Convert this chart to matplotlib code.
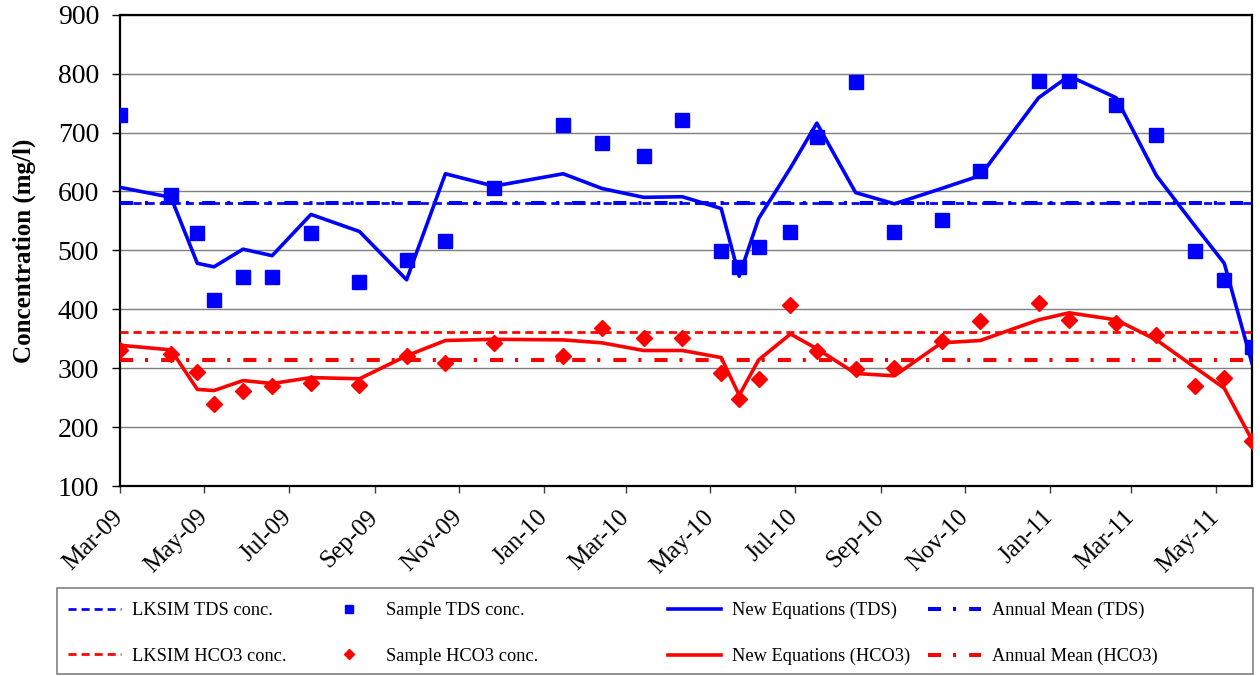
import matplotlib
matplotlib.use('Agg')
import matplotlib.pyplot as plt
import matplotlib.dates as mdates
import pandas as pd
from matplotlib.patches import Rectangle

plt.rcParams['font.family'] = ['Liberation Serif', 'DejaVu Serif']
plt.rcParams['lines.scale_dashes'] = False

# ---------------- data ----------------
sample_dates = [
    '2009-03-01', '2009-04-07', '2009-04-26', '2009-05-08', '2009-05-29',
    '2009-06-19', '2009-07-17', '2009-08-21', '2009-09-24', '2009-10-22',
    '2009-11-26', '2010-01-15', '2010-02-12', '2010-03-14', '2010-04-11',
    '2010-05-09', '2010-05-22', '2010-06-05', '2010-06-28', '2010-07-17',
    '2010-08-14', '2010-09-11', '2010-10-15', '2010-11-12', '2010-12-24',
    '2011-01-15', '2011-02-18', '2011-03-19', '2011-04-16', '2011-05-07',
    '2011-05-27',
]
tds_sample = [730, 594, 530, 416, 454, 455, 530, 447, 484, 516,
              606, 712, 683, 661, 722, 499, 471, 506, 531, 692,
              786, 531, 552, 634, 788, 788, 746, 696, 499, 450,
              336]
tds_model = [607, 590, 478, 472, 502, 491, 561, 532, 450, 630,
             609, 630, 605, 590, 591, 571, 456, 554, 640, 716,
             598, 579, 605, 627, 759, 796, 759, 627, 541, 478,
             308]
hco3_sample = [331, 324, 294, 239, 261, 270, 275, 272, 320, 308,
               343, 321, 368, 352, 352, 292, 248, 282, 408, 330,
               298, 301, 346, 380, 410, 382, 376, 357, 269, 284,
               177]
hco3_model = [339, 331, 264, 262, 279, 274, 284, 282, 321, 347,
              349, 348, 343, 330, 330, 318, 254, 314, 358, 333,
              291, 287, 343, 347, 382, 394, 382, 348, 301, 266,
              178]
lksim_tds = 581
lksim_hco3 = 361
mean_tds = 580
mean_hco3 = 314
y_ticks = [100, 200, 300, 400, 500, 600, 700, 800, 900]
tick_months = [1, 3, 5, 7, 9, 11]

labels = {
    'lksim_tds': 'LKSIM TDS conc.',
    'lksim_hco3': 'LKSIM HCO3 conc.',
    'sample_tds': 'Sample TDS conc.',
    'sample_hco3': 'Sample HCO3 conc.',
    'model_tds': 'New Equations (TDS)',
    'model_hco3': 'New Equations (HCO3)',
    'mean_tds': 'Annual Mean (TDS)',
    'mean_hco3': 'Annual Mean (HCO3)',
}

dates = pd.to_datetime(sample_dates)

BLUE = '#0000FF'
RED = '#FF0000'
W, H = 1260, 676

fig = plt.figure(figsize=(W / 100, H / 100), dpi=100)
ax = fig.add_axes([119.7 / W, 1 - 486 / H, (1252 - 119.7) / W, (486 - 14.7) / H])

dash = (0, (5.8, 3.6))
dashdot = (0, (9.4, 8.6, 2.2, 9.4))

h1 = ax.axhline(lksim_tds, color=BLUE, lw=1.95, linestyle=dash, label=labels['lksim_tds'], zorder=3)
h2 = ax.axhline(lksim_hco3, color=RED, lw=1.95, linestyle=dash, label=labels['lksim_hco3'], zorder=3)
h3, = ax.plot(dates, tds_sample, linestyle='none', marker='s', ms=9.9, color=BLUE,
              mec=BLUE, label=labels['sample_tds'], zorder=4)
h4, = ax.plot(dates, hco3_sample, linestyle='none', marker='D', ms=8.6, color=RED,
              mec=RED, label=labels['sample_hco3'], zorder=4)
h5, = ax.plot(dates, tds_model, color=BLUE, lw=2.6, label=labels['model_tds'], zorder=5)
h6, = ax.plot(dates, hco3_model, color=RED, lw=2.6, label=labels['model_hco3'], zorder=5)
h7 = ax.axhline(mean_tds, color=BLUE, lw=2.9, linestyle=dashdot, label=labels['mean_tds'], zorder=3)
h8 = ax.axhline(mean_hco3, color=RED, lw=2.9, linestyle=dashdot, label=labels['mean_hco3'], zorder=3)

ax.set_ylim(y_ticks[0], y_ticks[-1])
ax.set_yticks(y_ticks)
ax.set_xlim(dates[0], dates[-1])
ax.xaxis.set_major_locator(mdates.MonthLocator(bymonth=tick_months))
ax.xaxis.set_major_formatter(mdates.DateFormatter('%b-%y'))

ax.yaxis.grid(True, color='#7f7f7f', lw=1.0)
ax.set_axisbelow(True)
for sp in ax.spines.values():
    sp.set_color('black')
    sp.set_linewidth(1.6)

ax.tick_params(axis='y', direction='out', length=5.8, width=1.0, pad=9, labelsize=20)
ax.tick_params(axis='x', direction='out', length=5.0, width=1.0, pad=15, labelsize=18, color='#404040')
for lbl in ax.get_xticklabels():
    lbl.set_rotation(45)
    lbl.set_ha('right')
    lbl.set_va('center')
    lbl.set_rotation_mode('anchor')

ax.set_ylabel('Concentration (mg/l)', fontsize=18, fontweight='bold')
ax.yaxis.label.set_va('center')
ax.yaxis.set_label_coords((24 - 119.7) / (1252 - 119.7), 0.5)

# legend: frame + four columns
fig.add_artist(Rectangle((57 / W, 1 - 674 / H), (1253 - 57) / W, (674 - 588) / H,
                         transform=fig.transFigure, fill=False,
                         edgecolor='#808080', lw=1.2))
cols = [(h1, h2), (h3, h4), (h5, h6), (h7, h8)]
col_x = [68, 322, 668, 928]
for handles, x in zip(cols, col_x):
    fig.legend(handles=list(handles), loc='upper left',
               bbox_to_anchor=(x / W, 1 - 602 / H), frameon=False,
               borderpad=0, borderaxespad=0, handlelength=2.9,
               handletextpad=0.6, labelspacing=1.57, fontsize=13.2,
               markerscale=0.62)

fig.savefig('out.png', dpi=100)
